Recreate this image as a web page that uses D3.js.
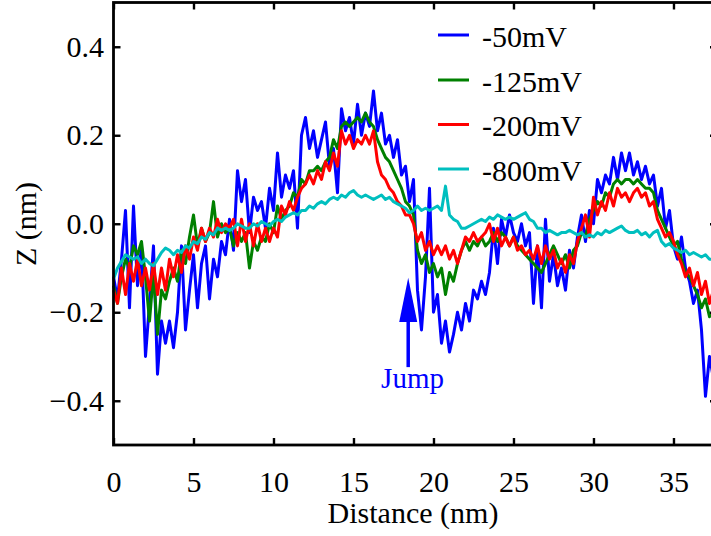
<!DOCTYPE html>
<html><head><meta charset="utf-8">
<script src="https://cdn.jsdelivr.net/npm/d3@7"></script>
<style>
body{margin:0;background:#fff}
svg{display:block}
svg text{font-family:"Liberation Serif","Times New Roman",serif !important}
</style>
</head><body>
<svg id="chart" width="711" height="536"></svg>
<script>
// sampling step along the profile (nm)
const STEP = 0.25;
const seriesNames = ["-50mV", "-125mV", "-200mV", "-800mV"];
const seriesColors = ["#0000ff", "#008000", "#ff0000", "#00bfbf"];
const xTicks = [0, 5, 10, 15, 20, 25, 30, 35];
const yTicks = [-0.4, -0.2, 0.0, 0.2, 0.4];

const z50 = [
 -0.12,-0.17,-0.08,0.03,-0.19,0.04,-0.14,-0.05,-0.30,-0.18,
 -0.05,-0.34,-0.22,-0.27,-0.22,-0.28,-0.20,-0.05,-0.24,-0.15,
 -0.07,-0.19,-0.09,-0.05,-0.17,-0.08,-0.12,-0.04,-0.07,0.01,
 -0.06,0.12,0.05,0.10,-0.02,0.06,0.03,0.05,-0.01,0.08,
 0.03,0.16,0.06,0.11,0.08,0.12,-0.01,0.20,0.24,0.17,
 0.21,0.15,0.19,0.23,0.13,0.17,0.07,0.26,0.21,0.24,
 0.18,0.27,0.20,0.25,0.22,0.30,0.21,0.25,0.18,0.20,
 0.15,0.19,0.11,0.13,0.05,0.10,-0.15,-0.24,-0.12,0.08,
 -0.20,-0.16,-0.27,-0.22,-0.29,-0.25,-0.20,-0.24,-0.18,-0.22,
 -0.15,-0.17,-0.13,-0.16,-0.11,-0.01,-0.09,0.01,-0.03,0.02,
 -0.02,-0.04,0.00,-0.05,-0.02,-0.18,-0.05,-0.19,0.01,-0.13,
 -0.07,-0.14,-0.10,-0.15,-0.06,-0.10,-0.03,0.02,-0.04,0.03,
 0.00,0.10,0.07,0.11,0.09,0.15,0.10,0.16,0.12,0.16,
 0.11,0.14,0.10,0.13,0.09,0.11,0.04,0.08,-0.01,0.03,
 -0.05,-0.08,-0.03,-0.10,-0.13,-0.18,-0.15,-0.24,-0.39,-0.30,
 -0.35
];
const z125 = [
 -0.14,-0.18,-0.12,-0.08,-0.10,-0.05,-0.07,-0.04,-0.12,-0.22,
 -0.11,-0.25,-0.15,-0.17,-0.13,-0.10,-0.13,-0.06,-0.09,-0.03,
 0.02,-0.05,-0.01,-0.04,-0.02,0.05,-0.03,0.00,-0.02,-0.01,
 -0.05,-0.02,-0.04,-0.02,-0.10,-0.04,-0.06,-0.03,-0.04,0.00,
 -0.02,0.04,0.01,0.03,0.04,0.07,0.06,0.10,0.09,0.12,
 0.12,0.13,0.12,0.14,0.15,0.19,0.17,0.22,0.23,0.22,
 0.23,0.24,0.23,0.25,0.23,0.22,0.19,0.17,0.15,0.14,
 0.12,0.10,0.08,0.05,0.04,0.02,-0.06,-0.09,-0.07,-0.11,
 -0.09,-0.12,-0.10,-0.16,-0.11,-0.13,-0.09,-0.06,-0.04,-0.06,
 -0.04,-0.05,-0.03,-0.05,-0.04,-0.02,-0.04,-0.02,-0.03,-0.05,
 -0.03,-0.05,-0.06,-0.07,-0.08,-0.09,-0.10,-0.11,-0.09,-0.07,
 -0.05,-0.07,-0.09,-0.07,-0.10,-0.06,-0.05,-0.02,-0.03,0.01,
 0.03,0.05,0.04,0.07,0.06,0.09,0.10,0.09,0.10,0.10,
 0.09,0.10,0.09,0.08,0.08,0.07,0.03,0.01,-0.01,-0.03,
 -0.05,-0.04,-0.08,-0.11,-0.12,-0.14,-0.16,-0.19,-0.17,-0.21,
 -0.20
];
const z200 = [
 -0.15,-0.18,-0.10,-0.16,-0.09,-0.13,-0.08,-0.14,-0.10,-0.15,
 -0.09,-0.16,-0.10,-0.15,-0.08,-0.12,-0.07,-0.11,-0.05,-0.08,
 -0.03,-0.06,-0.01,-0.04,-0.01,-0.03,0.01,-0.02,0.00,-0.01,
 0.01,-0.05,0.01,-0.04,0.00,-0.05,0.00,-0.04,-0.01,-0.04,
 -0.01,-0.03,0.04,0.02,0.05,0.03,0.06,0.08,0.09,0.11,
 0.09,0.12,0.10,0.14,0.12,0.16,0.13,0.21,0.18,0.20,
 0.17,0.19,0.18,0.20,0.18,0.21,0.14,0.11,0.10,0.08,
 0.07,0.05,0.04,0.02,0.02,0.00,-0.04,-0.02,-0.06,-0.04,
 -0.07,-0.05,-0.07,-0.05,-0.08,-0.06,-0.09,-0.06,-0.03,-0.04,
 -0.02,-0.04,-0.03,-0.02,0.00,-0.04,-0.01,-0.05,-0.03,-0.05,
 -0.03,-0.06,-0.05,-0.07,-0.06,-0.08,-0.05,-0.09,-0.05,-0.08,
 -0.06,-0.10,-0.08,-0.11,-0.07,-0.09,-0.04,-0.01,0.02,-0.03,
 0.06,0.02,0.05,0.03,0.07,0.04,0.08,0.06,0.07,0.05,
 0.07,0.08,0.06,0.07,0.04,0.05,0.01,-0.01,-0.03,-0.02,
 -0.04,-0.07,-0.09,-0.12,-0.10,-0.14,-0.11,-0.16,-0.13,-0.18,
 -0.15
];
const z800 = [
 -0.125,-0.10,-0.085,-0.07,-0.075,-0.08,-0.075,-0.09,-0.08,-0.09,
 -0.095,-0.08,-0.065,-0.055,-0.06,-0.07,-0.06,-0.065,-0.05,-0.055,
 -0.04,-0.045,-0.03,-0.035,-0.02,-0.025,-0.01,-0.015,-0.01,-0.015,
 -0.01,0.00,-0.005,-0.01,-0.01,0.00,-0.005,0.005,0.00,-0.005,
 0.005,0.01,0.005,0.015,0.02,0.025,0.02,0.03,0.03,0.04,
 0.035,0.045,0.05,0.045,0.055,0.06,0.055,0.065,0.06,0.07,
 0.075,0.065,0.06,0.065,0.06,0.055,0.06,0.065,0.055,0.06,
 0.05,0.045,0.04,0.035,0.025,0.03,0.04,0.03,0.035,0.03,
 0.035,0.04,0.03,0.085,0.02,0.01,0.005,-0.01,-0.01,-0.005,
 0.00,0.005,0.01,0.005,0.015,0.01,0.02,0.015,0.01,0.015,
 0.01,0.015,0.02,0.025,0.01,0.005,-0.01,-0.01,-0.02,-0.015,
 -0.02,-0.025,-0.02,-0.02,-0.015,-0.02,-0.025,-0.02,-0.03,-0.025,
 -0.03,-0.02,-0.025,-0.015,-0.02,-0.015,-0.01,-0.005,-0.015,-0.02,
 -0.02,-0.015,-0.025,-0.02,-0.03,-0.02,-0.015,-0.04,-0.05,-0.045,
 -0.055,-0.06,-0.065,-0.06,-0.07,-0.065,-0.07,-0.075,-0.07,-0.08,
 -0.08
];
const seriesValues = [z50, z125, z200, z800];

// annotation, in data units
const annotationText = "Jump";
const arrowX = 18.42, arrowTip = -0.122, arrowHeadBase = -0.222, arrowTail = -0.324;
const annoTextX = 18.69, annoTextY = -0.371;

const SERIF = '"Liberation Serif","Times New Roman",serif';
const svg = d3.select("#chart");
const x = d3.scaleLinear().domain([0, 37.72]).range([113.5, 717]);
const y = d3.scaleLinear().domain([-0.5, 0.5]).range([445, 2.5]);
const FONT = 30;

const distance = z50.map((_, i) => i * STEP);

// data lines
const line = d3.line().x(d => x(d[0])).y(d => y(d[1]));
const gLines = svg.append("g");
seriesValues.forEach((vals, k) => {
  gLines.append("path")
    .datum(vals.map((v, i) => [distance[i], v]))
    .attr("d", line)
    .attr("fill", "none")
    .attr("stroke", seriesColors[k])
    .attr("stroke-width", 3)
    .attr("stroke-linejoin", "round");
});

// axes with inward ticks
const tickW = 2.4;
const fmtY = d3.format(".1f");
const axL = svg.append("g").attr("transform", `translate(${x.range()[0]},0)`)
  .call(d3.axisLeft(y).tickValues(yTicks).tickSize(-7).tickPadding(9.5).tickFormat(fmtY));
const axB = svg.append("g").attr("transform", `translate(0,${y.range()[0]})`)
  .call(d3.axisBottom(x).tickValues(xTicks).tickSize(-7).tickPadding(26).tickFormat(d3.format("d")));
const axT = svg.append("g").attr("transform", `translate(0,${y.range()[1]})`)
  .call(d3.axisTop(x).tickValues(xTicks).tickSize(-7).tickFormat(""));
const axR = svg.append("g").attr("transform", `translate(${x.range()[1]},0)`)
  .call(d3.axisRight(y).tickValues(yTicks).tickSize(-7).tickFormat(""));
[axL, axB, axT, axR].forEach(a => {
  a.attr("font-family", SERIF).attr("font-size", FONT);
  a.select(".domain").remove();
  a.selectAll("line").attr("stroke", "#000").attr("stroke-width", tickW);
  a.selectAll("text").style("font-family", SERIF).style("font-size", FONT + "px").attr("fill", "#000");
});

// frame
svg.append("rect")
  .attr("x", x.range()[0]).attr("y", y.range()[1])
  .attr("width", x.range()[1] - x.range()[0]).attr("height", y.range()[0] - y.range()[1])
  .attr("fill", "none").attr("stroke", "#000").attr("stroke-width", 2.8);

// axis titles
svg.append("text")
  .attr("x", 413).attr("y", 523)
  .attr("text-anchor", "middle").style("font-family", SERIF).style("font-size", FONT + "px")
  .text("Distance (nm)");
svg.append("text")
  .attr("transform", "translate(36,224) rotate(-90)")
  .attr("text-anchor", "middle").style("font-family", SERIF).style("font-size", FONT + "px")
  .text("Z (nm)");

// legend
const legend = svg.append("g");
const legRows = [35, 80, 124.5, 169];
seriesNames.forEach((nm, k) => {
  legend.append("line")
    .attr("x1", 438).attr("x2", 469).attr("y1", legRows[k]).attr("y2", legRows[k])
    .attr("stroke", seriesColors[k]).attr("stroke-width", 3);
  legend.append("text")
    .attr("x", 482).attr("y", legRows[k] + 11.5)
    .style("font-family", SERIF).style("font-size", FONT + "px").text(nm);
});

// annotation arrow
const ax = x(arrowX);
svg.append("line")
  .attr("x1", ax).attr("x2", ax)
  .attr("y1", y(arrowTail)).attr("y2", y(arrowHeadBase) - 2)
  .attr("stroke", "#0000ff").attr("stroke-width", 3.5);
svg.append("path")
  .attr("d", `M${ax},${y(arrowTip)} L${ax - 9},${y(arrowHeadBase)} L${ax + 9},${y(arrowHeadBase)} Z`)
  .attr("fill", "#0000ff");
svg.append("text")
  .attr("x", x(annoTextX)).attr("y", y(annoTextY))
  .attr("text-anchor", "middle")
  .style("font-family", SERIF).style("font-size", "29px").style("fill", "#0000ff")
  .text(annotationText);
</script>
</body></html>
